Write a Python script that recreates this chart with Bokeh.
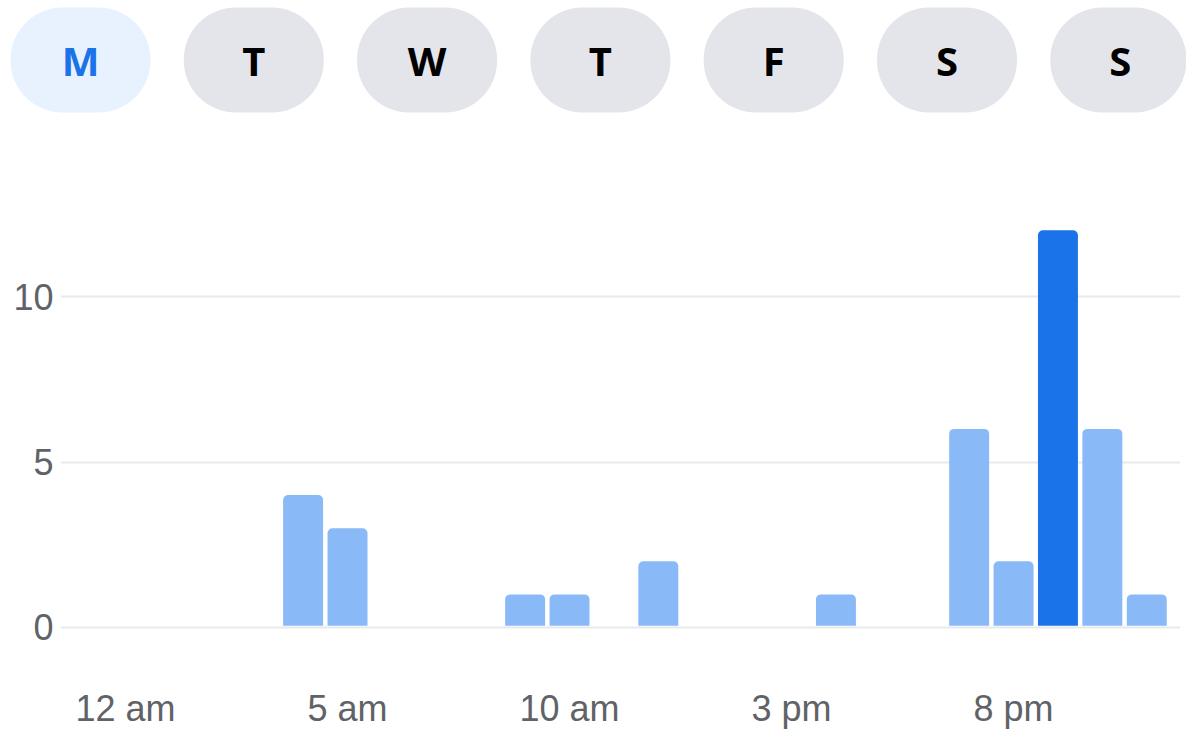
from bokeh.plotting import figure
from bokeh.layouts import column
from bokeh.models import Range1d, FixedTicker, ColumnDataSource
from bokeh.core.properties import value
from bokeh.embed import file_html
from bokeh.resources import INLINE

# ---- data ----
days = ["M", "T", "W", "T", "F", "S", "S"]
selected_day = 0
hours = list(range(24))
visits = [0, 0, 0, 0, 4, 3, 0, 0, 0, 1, 1, 0, 2, 0, 0, 0, 1, 0, 0, 6, 2, 12, 6, 1]
highlight_hour = 21
hour_ticks = [0, 5, 10, 15, 20]
hour_labels = ["12 am", "5 am", "10 am", "3 pm", "8 pm"]
y_ticks = [0, 5, 10]

# ---- colours ----
BAR = "#8ab9f8"
BAR_HI = "#1a73e8"
PILL_SEL = "#e8f2fe"
PILL = "#e4e5ea"
TXT_SEL = "#1a73e8"
TXT = "#000000"
AXIS_TXT = "#5f6368"
GRID = "#e8e9ed"

# ---- day pills ----
top = figure(width=1186, height=158, output_backend="svg", toolbar_location=None,
             x_range=Range1d(-0.4616, 6.382), y_range=Range1d(158, 0),
             min_border=0, frame_align=False)
top.axis.visible = False
top.grid.visible = False
top.outline_line_color = None
top.background_fill_color = None
top.border_fill_color = None

idx = list(range(len(days)))
pill_src = ColumnDataSource(dict(
    x=idx, day=days,
    fill=[PILL_SEL if i == selected_day else PILL for i in idx],
    tc=[TXT_SEL if i == selected_day else TXT for i in idx],
))
top.vbar(x="x", width=0.808, bottom=112, top=7, source=pill_src,
         fill_color="fill", line_color=None, border_radius=52)
top.text(x="x", y=60, text="day", source=pill_src, text_color="tc",
         text_align="center", text_baseline="middle",
         text_font=value("Open Sans"), text_font_size="40px",
         text_font_style="bold")

# ---- hourly bars ----
p = figure(frame_width=1120, frame_height=482, output_backend="svg",
           toolbar_location=None,
           x_range=Range1d(-1.464, 23.76), y_range=Range1d(-0.393, 14.17),
           min_border_left=60, min_border_right=6, min_border_top=0,
           min_border_bottom=0, frame_align=False)
p.outline_line_color = None
p.xgrid.visible = False
p.ygrid.grid_line_color = GRID
p.ygrid.grid_line_width = 2
p.ygrid.ticker = FixedTicker(ticks=y_ticks)

bx = [h for h, v in zip(hours, visits) if v > 0]
bv = [v for v in visits if v > 0]
bc = [BAR_HI if h == highlight_hour else BAR for h in bx]
p.vbar(x=bx, top=bv, bottom=0.05, width=0.9, fill_color=bc, line_color=None,
       border_radius=[5, 5, 0, 0])

p.yaxis.ticker = FixedTicker(ticks=y_ticks)
p.xaxis.ticker = FixedTicker(ticks=hour_ticks)
p.xaxis.major_label_overrides = {t: l for t, l in zip(hour_ticks, hour_labels)}
for ax in (p.xaxis, p.yaxis):
    ax.axis_line_color = None
    ax.major_tick_line_color = None
    ax.minor_tick_line_color = None
    ax.major_tick_out = 0
    ax.major_tick_in = 0
    ax.minor_tick_out = 0
    ax.major_label_text_font = "Liberation Sans"
    ax.major_label_text_font_size = "36px"
    ax.major_label_text_color = AXIS_TXT
p.yaxis.major_label_standoff = 7
p.xaxis.major_label_standoff = 47

layout = column(top, p, spacing=0)
open("out.html", "w").write(file_html(layout, INLINE))
